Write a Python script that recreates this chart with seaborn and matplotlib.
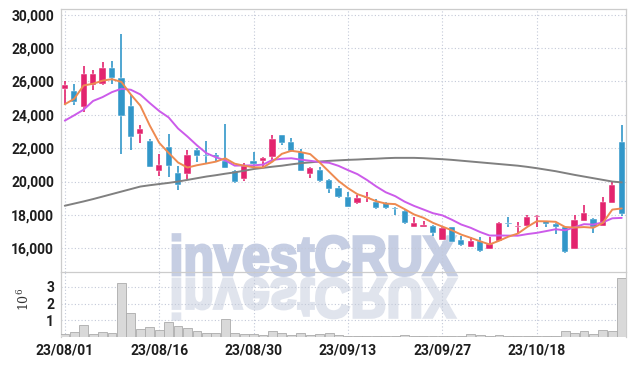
import numpy as np
import pandas as pd
import seaborn as sns
import matplotlib
matplotlib.use('Agg')
import matplotlib.pyplot as plt
from matplotlib.textpath import TextPath
from matplotlib.patches import PathPatch
from matplotlib.font_manager import FontProperties
from matplotlib.transforms import Affine2D, IdentityTransform
from matplotlib.ticker import FuncFormatter

# trading days shown (yy/mm/dd)
dates = ['23/08/01', '23/08/02', '23/08/03', '23/08/04', '23/08/07', '23/08/08', '23/08/09', '23/08/10',
         '23/08/11', '23/08/14', '23/08/16', '23/08/17', '23/08/18', '23/08/21', '23/08/22', '23/08/23',
         '23/08/24', '23/08/25', '23/08/28', '23/08/29', '23/08/30', '23/08/31', '23/09/01', '23/09/04',
         '23/09/05', '23/09/06', '23/09/07', '23/09/08', '23/09/11', '23/09/12', '23/09/13', '23/09/14',
         '23/09/15', '23/09/18', '23/09/19', '23/09/20', '23/09/21', '23/09/22', '23/09/25', '23/09/26',
         '23/09/27', '23/10/04', '23/10/05', '23/10/06', '23/10/10', '23/10/11', '23/10/12', '23/10/13',
         '23/10/16', '23/10/17', '23/10/18', '23/10/19', '23/10/20', '23/10/23', '23/10/24', '23/10/25',
         '23/10/26', '23/10/27', '23/10/30', '23/10/31']

opens = [25540, 25400, 24470, 25760, 25860, 26810, 26210, 24500, 22860, 22420,
         20660, 22070, 20490, 20450, 21870, 21620, 21620, 21260, 20610, 20140,
         21240, 21260, 21460, 22760, 22360, 21800, 20460, 20700, 20100, 19600,
         19100, 18700, 19040, 18800, 18700, 18400, 18240, 17260, 17260, 17340,
         16500, 17260, 16500, 16100, 16440, 15960, 16460, 17500, 17300, 17360,
         17860, 17640, 17460, 17260, 15940, 17660, 17740, 17360, 18740, 22400]
highs = [26055, 25860, 26950, 26690, 27150, 27250, 28850, 25160, 23380, 22520,
         21630, 22820, 20950, 21870, 22010, 22420, 21700, 23450, 20690, 21100,
         21800, 21460, 22800, 22800, 22600, 21960, 20900, 20900, 20140, 19740,
         19400, 19200, 19400, 18960, 18800, 18500, 18300, 17900, 17660, 17400,
         17300, 17300, 16740, 16660, 16660, 16700, 17560, 17860, 17600, 18000,
         18000, 17640, 17540, 17300, 18000, 18600, 17800, 19100, 20000, 23400]
lows = [24670, 24570, 24170, 25500, 25760, 25860, 21650, 21890, 22290, 20860,
        20360, 20300, 19470, 20140, 21160, 21060, 21260, 20810, 19900, 20040,
        20900, 20900, 21200, 22200, 21800, 20660, 20200, 20000, 19300, 19000,
        18500, 18640, 18760, 18360, 18360, 18000, 17460, 17260, 17260, 16760,
        16500, 16400, 16140, 16100, 15800, 15960, 16460, 17300, 16860, 17360,
        17300, 17260, 16860, 15740, 15940, 17660, 16940, 17360, 18740, 17940]
closes = [25760, 24770, 26450, 26450, 26810, 26200, 23930, 22680, 23140, 20860,
          21000, 20910, 19800, 21620, 21560, 21520, 21460, 20810, 20000, 20950,
          21060, 21400, 22560, 22340, 21860, 20660, 20800, 20060, 19560, 19100,
          18500, 19000, 19100, 18400, 18400, 18340, 17500, 17500, 17400, 16900,
          17200, 16400, 16200, 16440, 15860, 16260, 17500, 17440, 17360, 17860,
          17940, 17460, 17300, 15800, 17700, 18100, 17260, 18760, 19800, 18040]

# moving averages as drawn on the chart
ma5 = [24630, 24960, 25760, 25860, 26048, 26136, 25968, 25214, 24552, 23362,
       22322, 21718, 21142, 20838, 20978, 21082, 21192, 21394, 21070, 20948,
       20856, 20844, 21194, 21662, 21844, 21764, 21644, 21144, 20588, 20036,
       19604, 19244, 19052, 18820, 18680, 18648, 18348, 18028, 17828, 17528,
       17300, 17080, 16820, 16628, 16420, 16232, 16452, 16700, 16884, 17284,
       17624, 17616, 17588, 17276, 17244, 17272, 17232, 17528, 18320, 18388]
ma10 = [23650, 23970, 24310, 24830, 25060, 25360, 25560, 25500, 25220, 24705,
        24229, 23843, 23178, 22695, 22170, 21702, 21455, 21268, 20954, 20963,
        20969, 21018, 21294, 21366, 21396, 21310, 21244, 21169, 21125, 20940,
        20684, 20444, 20098, 19704, 19358, 19126, 18796, 18540, 18324, 18104,
        17974, 17714, 17424, 17228, 16974, 16766, 16766, 16760, 16756, 16852,
        16926, 17032, 17142, 17078, 17262, 17446, 17422, 17554, 17798, 17822]
ma_long = [18550, 18680, 18810, 18950, 19100, 19250, 19400, 19550, 19700, 19780,
           19850, 19920, 20000, 20100, 20200, 20300, 20380, 20470, 20550, 20650,
           20750, 20820, 20890, 20950, 21030, 21100, 21150, 21200, 21240, 21270,
           21300, 21320, 21350, 21370, 21400, 21420, 21420, 21420, 21400, 21370,
           21340, 21300, 21250, 21200, 21150, 21100, 21050, 21000, 20950, 20880,
           20800, 20710, 20620, 20510, 20400, 20300, 20200, 20100, 20000, 19950]

# volume in millions of shares
volume_m = [0.18, 0.30, 0.72, 0.20, 0.30, 0.26, 3.24, 1.44, 0.48, 0.60,
            0.42, 0.90, 0.66, 0.54, 0.38, 0.26, 0.26, 1.08, 0.26, 0.20,
            0.18, 0.12, 0.38, 0.26, 0.12, 0.26, 0.12, 0.20, 0.22, 0.10,
            0.08, 0.06, 0.05, 0.04, 0.05, 0.04, 0.12, 0.08, 0.04, 0.06,
            0.05, 0.06, 0.05, 0.18, 0.12, 0.06, 0.10, 0.05, 0.08, 0.05,
            0.06, 0.04, 0.06, 0.36, 0.26, 0.36, 0.20, 0.42, 0.38, 3.54]

price_ticks = [16000, 18000, 20000, 22000, 24000, 26000, 28000, 30000]
vol_ticks = [1, 2, 3]
label_every = 10

df = pd.DataFrame({'date': dates, 'open': opens, 'high': highs, 'low': lows, 'close': closes,
                   'ma5': ma5, 'ma10': ma10, 'ma_long': ma_long, 'volume': volume_m})
df['pos'] = np.arange(len(df))

UP = '#E3246E'
DOWN = '#3297C9'
GRID = '#C3C9D8'
EDGE = '#CCCCCC'

sns.set_theme(style='white')
plt.rcParams['font.family'] = ['Roboto', 'DejaVu Sans']
plt.rcParams['font.weight'] = 'bold'

fig = plt.figure(figsize=(6.34, 3.66), dpi=100)
ax = fig.add_axes([61 / 634, 1 - 272 / 366, 565 / 634, 263 / 366])
axv = fig.add_axes([61 / 634, 1 - 337 / 366, 565 / 634, 65 / 366], sharex=ax)
for a in (ax, axv):
    a.patch.set_alpha(0)

# watermark with reflection (stroked to make it heavy)
fp = FontProperties(family=['Liberation Sans', 'DejaVu Sans'], weight='bold')
tp = TextPath((0, 0), 'investCRUX', size=58, prop=fp)
ext = tp.get_extents()
sx = 283 / ext.width
sy = 41 / ext.height
main_tr = Affine2D().translate(-ext.x0, 0).scale(sx, sy).translate(173, 366 - 275)
refl_tr = Affine2D().translate(-ext.x0, 0).scale(sx, -sy).translate(173, 366 - 279)
fig.patches.append(PathPatch(main_tr.transform_path(tp), facecolor='#C6CEE3', edgecolor='#C6CEE3',
                             linewidth=2.0, transform=IdentityTransform(), zorder=-1, figure=fig))
fig.patches.append(PathPatch(refl_tr.transform_path(tp), facecolor='#E0E4ED', edgecolor='#E0E4ED',
                             linewidth=2.0, transform=IdentityTransform(), zorder=-1, figure=fig))

# candles
colors = np.where(df['close'] >= df['open'], UP, DOWN)
ax.vlines(df['pos'], df['low'], df['high'], colors=colors, linewidth=1.2, zorder=3)
body_lo = df[['open', 'close']].min(axis=1)
body_h = (df['close'] - df['open']).abs().clip(lower=50)
ax.bar(df['pos'], body_h, bottom=body_lo, width=0.66, color=colors, edgecolor='white',
       linewidth=0.3, zorder=4)

# moving averages
sns.lineplot(data=df, x='pos', y='ma_long', ax=ax, color='#808080', linewidth=1.4, zorder=5)
sns.lineplot(data=df, x='pos', y='ma10', ax=ax, color='#CC5BEA', linewidth=1.4, zorder=5)
sns.lineplot(data=df, x='pos', y='ma5', ax=ax, color='#EE8A50', linewidth=1.4, zorder=6)

# volume
sns.barplot(data=df, x='pos', y='volume', ax=axv, native_scale=True, color='#D9D9D9',
            saturation=1, edgecolor='#ABABAB', linewidth=0.6, width=0.94, zorder=3)

ticks = df['pos'][::label_every]
ax.set_xlim(-0.4, 59.45)
ax.set_ylim(14580, 30340)
ax.set_yticks(price_ticks)
ax.yaxis.set_major_formatter(FuncFormatter(lambda v, p: f'{int(v):,}'))
axv.set_ylim(0, 3.9)
axv.set_yticks(vol_ticks)
axv.set_xticks(ticks)
axv.set_xticklabels(df['date'][::label_every])
ax.tick_params(axis='x', labelbottom=False)

for a in (ax, axv):
    a.set_xlabel('')
    a.set_ylabel('')
    a.grid(True, color=GRID, linestyle=(0, (1, 2)), linewidth=0.8)
    a.set_axisbelow(True)
    a.tick_params(length=0, pad=5, labelsize=10, labelcolor='#1E1E1E')
    for s in a.spines.values():
        s.set_color(EDGE)
        s.set_linewidth(0.9)
axv.spines['bottom'].set_visible(False)
axv.spines['top'].set_visible(False)
axv.set_xlim(-0.4, 59.45)

# exponent label in a plain serif face
axv.set_ylabel(r'$\mathregular{10^6}$', fontsize=9, color='#333333', fontweight='normal',
               family='DejaVu Serif')
axv.yaxis.set_label_coords(-0.052, 0.57)

fig.savefig('out.png', dpi=100)
